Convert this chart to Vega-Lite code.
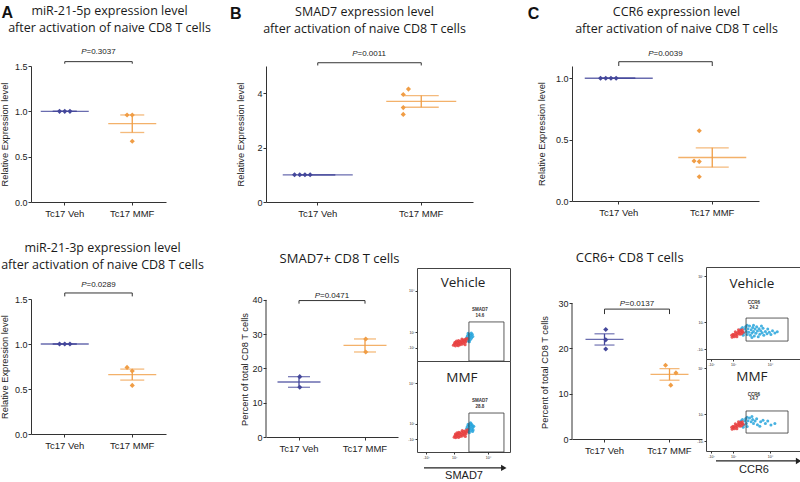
{
"$schema":"https://vega.github.io/schema/vega-lite/v6.json",
"padding":{"left":0,"top":4,"right":0,"bottom":0},
"config":{
 "view":{"stroke":null},
 "font":"Liberation Sans",
 "axis":{"grid":false,"labelOverlap":false,"labelFont":"Liberation Sans","titleFont":"Liberation Sans","labelFontSize":9,"titleFontSize":9.3,"titleFontWeight":"normal","labelColor":"#222","titleColor":"#222","domainColor":"#333","tickColor":"#333","tickSize":3},
 "title":{"font":"Open Sans","fontSize":12.5,"fontWeight":"normal","color":"#1a1a1a","lineHeight":17},
 "text":{"font":"Liberation Sans"}
},
"spacing":16,
"hconcat":[
{
"spacing":18,
"hconcat":[
{
 "title":{"text":"A","anchor":"start","font":"Liberation Sans","fontSize":16,"fontWeight":"bold","offset":-16,"dx":1,"color":"#111"},
 "spacing":23,
 "vconcat":[
 {
  "width":135,"height":136,
  "title":{"text":["miR-21-5p expression level","after activation of naive CD8 T cells"],"frame":"group","dx":11,"offset":14},
  "layer":[
   {"data":{"values":[
     {"group":"Tc17 Veh","slot":-1,"value":1.0},{"group":"Tc17 Veh","slot":0,"value":1.0},{"group":"Tc17 Veh","slot":1,"value":1.0},
     {"group":"Tc17 MMF","slot":-1,"value":0.96},{"group":"Tc17 MMF","slot":0,"value":0.96},{"group":"Tc17 MMF","slot":0,"value":0.67}]},
    "layer":[
     {"mark":{"type":"tick","size":48,"thickness":1.3,"opacity":0.8},
      "encoding":{
       "x":{"field":"group","type":"nominal","title":null,"scale":{"domain":["Tc17 Veh","Tc17 MMF"],"paddingInner":0,"paddingOuter":0},"axis":{"labelAngle":0,"labelFontSize":9.5,"labelPadding":3}},
       "y":{"aggregate":"mean","field":"value","type":"quantitative","title":"Relative Expression level","scale":{"domain":[0,1.5],"nice":false,"zero":false},"axis":{"values":[0,0.5,1,1.5],"format":".1f","labelPadding":1,"titlePadding":5}},
       "color":{"field":"group","type":"nominal","scale":{"domain":["Tc17 Veh","Tc17 MMF"],"range":["#44479b","#f09d45"]},"legend":null}}},
     {"mark":{"type":"errorbar","extent":"stderr","thickness":1.3,"ticks":{"size":24}},
      "encoding":{
       "x":{"field":"group","type":"nominal","title":null,"scale":{"domain":["Tc17 Veh","Tc17 MMF"],"paddingInner":0,"paddingOuter":0}},
       "y":{"field":"value","type":"quantitative","title":"Relative Expression level","scale":{"domain":[0,1.5],"nice":false,"zero":false}},
       "color":{"field":"group","type":"nominal","scale":{"domain":["Tc17 Veh","Tc17 MMF"],"range":["#44479b","#f09d45"]},"legend":null}}},
     {"mark":{"type":"point","shape":"diamond","filled":true,"size":26,"opacity":1},
      "encoding":{
       "x":{"field":"group","type":"nominal","title":null,"scale":{"domain":["Tc17 Veh","Tc17 MMF"],"paddingInner":0,"paddingOuter":0}},
       "xOffset":{"field":"slot","type":"ordinal","scale":{"type":"point","domain":[-2,-1,0,1,2],"range":[20.75,46.75]}},
       "y":{"field":"value","type":"quantitative","title":"Relative Expression level","scale":{"domain":[0,1.5],"nice":false,"zero":false}},
       "color":{"field":"group","type":"nominal","scale":{"domain":["Tc17 Veh","Tc17 MMF"],"range":["#44479b","#f09d45"]},"legend":null}}}
    ]},
   {"data":{"values":[{"group":"Tc17 Veh","y":1.548,"y2":1.525},{"group":"Tc17 MMF","y":1.548,"y2":1.525}]},
    "layer":[
     {"mark":{"type":"line","color":"#333","strokeWidth":1},"encoding":{"x":{"field":"group","type":"nominal","title":null,"scale":{"domain":["Tc17 Veh","Tc17 MMF"],"paddingInner":0,"paddingOuter":0}},"y":{"field":"y","type":"quantitative","title":"Relative Expression level","scale":{"domain":[0,1.5],"nice":false,"zero":false}}}},
     {"mark":{"type":"rule","color":"#333","strokeWidth":1},"encoding":{"x":{"field":"group","type":"nominal","title":null,"scale":{"domain":["Tc17 Veh","Tc17 MMF"],"paddingInner":0,"paddingOuter":0}},"y":{"field":"y","type":"quantitative","title":"Relative Expression level","scale":{"domain":[0,1.5],"nice":false,"zero":false}},"y2":{"field":"y2"}}}
    ]},
   {"data":{"values":[{"group":"Tc17 Veh","y":1.654,"p":"P","v":"=0.3037"}]},
    "layer":[
     {"mark":{"type":"text","fontSize":8,"fontStyle":"italic","align":"right","baseline":"middle","dx":-12,"color":"#222"},"encoding":{"x":{"field":"group","type":"nominal","title":null,"bandPosition":1,"scale":{"domain":["Tc17 Veh","Tc17 MMF"],"paddingInner":0,"paddingOuter":0}},"y":{"field":"y","type":"quantitative","title":"Relative Expression level","scale":{"domain":[0,1.5],"nice":false,"zero":false}},"text":{"field":"p"}}},
     {"mark":{"type":"text","fontSize":8,"align":"left","baseline":"middle","dx":-12,"color":"#222"},"encoding":{"x":{"field":"group","type":"nominal","title":null,"bandPosition":1,"scale":{"domain":["Tc17 Veh","Tc17 MMF"],"paddingInner":0,"paddingOuter":0}},"y":{"field":"y","type":"quantitative","title":"Relative Expression level","scale":{"domain":[0,1.5],"nice":false,"zero":false}},"text":{"field":"v"}}}
    ]}
  ]
 },
 {
  "width":135,"height":135,
  "title":{"text":["miR-21-3p expression level","after activation of naive CD8 T cells"],"frame":"group","dx":4,"offset":10},
  "layer":[
   {"data":{"values":[
     {"group":"Tc17 Veh","slot":-1,"value":1.0},{"group":"Tc17 Veh","slot":0,"value":1.0},{"group":"Tc17 Veh","slot":1,"value":1.0},
     {"group":"Tc17 MMF","slot":-1,"value":0.74},{"group":"Tc17 MMF","slot":0,"value":0.70},{"group":"Tc17 MMF","slot":0,"value":0.54}]},
    "layer":[
     {"mark":{"type":"tick","size":48,"thickness":1.3,"opacity":0.8},
      "encoding":{
       "x":{"field":"group","type":"nominal","title":null,"scale":{"domain":["Tc17 Veh","Tc17 MMF"],"paddingInner":0,"paddingOuter":0},"axis":{"labelAngle":0,"labelFontSize":9.5,"labelPadding":3}},
       "y":{"aggregate":"mean","field":"value","type":"quantitative","title":"Relative Expression level","scale":{"domain":[0,1.5],"nice":false,"zero":false},"axis":{"values":[0,0.5,1,1.5],"format":".1f","labelPadding":1,"titlePadding":5}},
       "color":{"field":"group","type":"nominal","scale":{"domain":["Tc17 Veh","Tc17 MMF"],"range":["#44479b","#f09d45"]},"legend":null}}},
     {"mark":{"type":"errorbar","extent":"stderr","thickness":1.3,"ticks":{"size":24}},
      "encoding":{
       "x":{"field":"group","type":"nominal","title":null,"scale":{"domain":["Tc17 Veh","Tc17 MMF"],"paddingInner":0,"paddingOuter":0}},
       "y":{"field":"value","type":"quantitative","title":"Relative Expression level","scale":{"domain":[0,1.5],"nice":false,"zero":false}},
       "color":{"field":"group","type":"nominal","scale":{"domain":["Tc17 Veh","Tc17 MMF"],"range":["#44479b","#f09d45"]},"legend":null}}},
     {"mark":{"type":"point","shape":"diamond","filled":true,"size":26,"opacity":1},
      "encoding":{
       "x":{"field":"group","type":"nominal","title":null,"scale":{"domain":["Tc17 Veh","Tc17 MMF"],"paddingInner":0,"paddingOuter":0}},
       "xOffset":{"field":"slot","type":"ordinal","scale":{"type":"point","domain":[-2,-1,0,1,2],"range":[20.75,46.75]}},
       "y":{"field":"value","type":"quantitative","title":"Relative Expression level","scale":{"domain":[0,1.5],"nice":false,"zero":false}},
       "color":{"field":"group","type":"nominal","scale":{"domain":["Tc17 Veh","Tc17 MMF"],"range":["#44479b","#f09d45"]},"legend":null}}}
    ]},
   {"data":{"values":[{"group":"Tc17 Veh","y":1.567,"y2":1.529},{"group":"Tc17 MMF","y":1.567,"y2":1.529}]},
    "layer":[
     {"mark":{"type":"line","color":"#333","strokeWidth":1},"encoding":{"x":{"field":"group","type":"nominal","title":null,"scale":{"domain":["Tc17 Veh","Tc17 MMF"],"paddingInner":0,"paddingOuter":0}},"y":{"field":"y","type":"quantitative","title":"Relative Expression level","scale":{"domain":[0,1.5],"nice":false,"zero":false}}}},
     {"mark":{"type":"rule","color":"#333","strokeWidth":1},"encoding":{"x":{"field":"group","type":"nominal","title":null,"scale":{"domain":["Tc17 Veh","Tc17 MMF"],"paddingInner":0,"paddingOuter":0}},"y":{"field":"y","type":"quantitative","title":"Relative Expression level","scale":{"domain":[0,1.5],"nice":false,"zero":false}},"y2":{"field":"y2"}}}
    ]},
   {"data":{"values":[{"group":"Tc17 Veh","y":1.655,"p":"P","v":"=0.0289"}]},
    "layer":[
     {"mark":{"type":"text","fontSize":8,"fontStyle":"italic","align":"right","baseline":"middle","dx":-12,"color":"#222"},"encoding":{"x":{"field":"group","type":"nominal","title":null,"bandPosition":1,"scale":{"domain":["Tc17 Veh","Tc17 MMF"],"paddingInner":0,"paddingOuter":0}},"y":{"field":"y","type":"quantitative","title":"Relative Expression level","scale":{"domain":[0,1.5],"nice":false,"zero":false}},"text":{"field":"p"}}},
     {"mark":{"type":"text","fontSize":8,"align":"left","baseline":"middle","dx":-12,"color":"#222"},"encoding":{"x":{"field":"group","type":"nominal","title":null,"bandPosition":1,"scale":{"domain":["Tc17 Veh","Tc17 MMF"],"paddingInner":0,"paddingOuter":0}},"y":{"field":"y","type":"quantitative","title":"Relative Expression level","scale":{"domain":[0,1.5],"nice":false,"zero":false}},"text":{"field":"v"}}}
    ]}
  ]
 }
 ]
},
{
 "title":{"text":"B","anchor":"start","font":"Liberation Sans","fontSize":16,"fontWeight":"bold","offset":-16,"dx":-7,"color":"#111"},
 "spacing":34,
 "vconcat":[
 {
  "width":207,"height":136,
  "title":{"text":["SMAD7 expression level","after activation of naive CD8 T cells"],"frame":"group","dx":-5,"offset":14},
  "layer":[
   {"data":{"values":[
     {"group":"Tc17 Veh","slot":-1,"value":1.0},{"group":"Tc17 Veh","slot":0,"value":1.0},{"group":"Tc17 Veh","slot":1,"value":1.0},{"group":"Tc17 Veh","slot":2,"value":1.0},
     {"group":"Tc17 MMF","slot":1,"value":4.15},{"group":"Tc17 MMF","slot":0,"value":3.95},{"group":"Tc17 MMF","slot":0,"value":3.47},{"group":"Tc17 MMF","slot":0,"value":3.22}]},
    "layer":[
     {"mark":{"type":"tick","size":70,"thickness":1.3,"opacity":0.8},
      "encoding":{
       "x":{"field":"group","type":"nominal","title":null,"scale":{"domain":["Tc17 Veh","Tc17 MMF"],"paddingInner":0,"paddingOuter":0},"axis":{"labelAngle":0,"labelFontSize":9.5,"labelPadding":3}},
       "y":{"aggregate":"mean","field":"value","type":"quantitative","title":"Relative Expression level","scale":{"domain":[0,5],"nice":false,"zero":false},"axis":{"values":[0,1,2,3,4,5],"format":"d","labelPadding":1,"titlePadding":11}},
       "color":{"field":"group","type":"nominal","scale":{"domain":["Tc17 Veh","Tc17 MMF"],"range":["#44479b","#f09d45"]},"legend":null}}},
     {"mark":{"type":"errorbar","extent":"stderr","thickness":1.3,"ticks":{"size":35}},
      "encoding":{
       "x":{"field":"group","type":"nominal","title":null,"scale":{"domain":["Tc17 Veh","Tc17 MMF"],"paddingInner":0,"paddingOuter":0}},
       "y":{"field":"value","type":"quantitative","title":"Relative Expression level","scale":{"domain":[0,5],"nice":false,"zero":false}},
       "color":{"field":"group","type":"nominal","scale":{"domain":["Tc17 Veh","Tc17 MMF"],"range":["#44479b","#f09d45"]},"legend":null}}},
     {"mark":{"type":"point","shape":"diamond","filled":true,"size":26,"opacity":1},
      "encoding":{
       "x":{"field":"group","type":"nominal","title":null,"scale":{"domain":["Tc17 Veh","Tc17 MMF"],"paddingInner":0,"paddingOuter":0}},
       "xOffset":{"field":"slot","type":"ordinal","scale":{"type":"point","domain":[-2,-1,0,1,2],"range":[38.75,64.75]}},
       "y":{"field":"value","type":"quantitative","title":"Relative Expression level","scale":{"domain":[0,5],"nice":false,"zero":false}},
       "color":{"field":"group","type":"nominal","scale":{"domain":["Tc17 Veh","Tc17 MMF"],"range":["#44479b","#f09d45"]},"legend":null}}}
    ]},
   {"data":{"values":[{"group":"Tc17 Veh","y":5.12,"y2":5.02},{"group":"Tc17 MMF","y":5.12,"y2":5.02}]},
    "layer":[
     {"mark":{"type":"line","color":"#333","strokeWidth":1},"encoding":{"x":{"field":"group","type":"nominal","title":null,"scale":{"domain":["Tc17 Veh","Tc17 MMF"],"paddingInner":0,"paddingOuter":0}},"y":{"field":"y","type":"quantitative","title":"Relative Expression level","scale":{"domain":[0,5],"nice":false,"zero":false}}}},
     {"mark":{"type":"rule","color":"#333","strokeWidth":1},"encoding":{"x":{"field":"group","type":"nominal","title":null,"scale":{"domain":["Tc17 Veh","Tc17 MMF"],"paddingInner":0,"paddingOuter":0}},"y":{"field":"y","type":"quantitative","title":"Relative Expression level","scale":{"domain":[0,5],"nice":false,"zero":false}},"y2":{"field":"y2"}}}
    ]},
   {"data":{"values":[{"group":"Tc17 Veh","y":5.45,"p":"P","v":"=0.0011"}]},
    "layer":[
     {"mark":{"type":"text","fontSize":8,"fontStyle":"italic","align":"right","baseline":"middle","dx":-12,"color":"#222"},"encoding":{"x":{"field":"group","type":"nominal","title":null,"bandPosition":1,"scale":{"domain":["Tc17 Veh","Tc17 MMF"],"paddingInner":0,"paddingOuter":0}},"y":{"field":"y","type":"quantitative","title":"Relative Expression level","scale":{"domain":[0,5],"nice":false,"zero":false}},"text":{"field":"p"}}},
     {"mark":{"type":"text","fontSize":8,"align":"left","baseline":"middle","dx":-12,"color":"#222"},"encoding":{"x":{"field":"group","type":"nominal","title":null,"bandPosition":1,"scale":{"domain":["Tc17 Veh","Tc17 MMF"],"paddingInner":0,"paddingOuter":0}},"y":{"field":"y","type":"quantitative","title":"Relative Expression level","scale":{"domain":[0,5],"nice":false,"zero":false}},"text":{"field":"v"}}}
    ]}
  ]
 },
 {
  "title":{"text":"SMAD7+ CD8 T cells","anchor":"start","dx":39,"offset":2,"fontSize":13},
  "spacing":9,
  "hconcat":[
   {
    "width":132,"height":169,
    "layer":[
     {"data":{"values":[
       {"group":"Tc17 Veh","slot":0,"value":17.6},{"group":"Tc17 Veh","slot":0,"value":14.5},
       {"group":"Tc17 MMF","slot":0,"value":28.6},{"group":"Tc17 MMF","slot":0,"value":24.8}]},
      "layer":[
       {"mark":{"type":"tick","size":43,"thickness":1.3,"opacity":0.8},
        "encoding":{
         "x":{"field":"group","type":"nominal","title":null,"scale":{"domain":["Tc17 Veh","Tc17 MMF"],"paddingInner":0,"paddingOuter":0},"axis":{"labelAngle":0,"labelFontSize":9.5,"labelPadding":3}},
         "y":{"aggregate":"mean","field":"value","type":"quantitative","title":"Percent of total CD8 T cells","scale":{"domain":[0,49.3],"nice":false,"zero":false},"axis":{"values":[0,10,20,30,40],"format":"d","domain":false,"titleY":101,"labelPadding":1,"titlePadding":2.4}},
         "color":{"field":"group","type":"nominal","scale":{"domain":["Tc17 Veh","Tc17 MMF"],"range":["#44479b","#f09d45"]},"legend":null}}},
       {"mark":{"type":"errorbar","extent":"stderr","thickness":1.3,"ticks":{"size":22}},
        "encoding":{
         "x":{"field":"group","type":"nominal","title":null,"scale":{"domain":["Tc17 Veh","Tc17 MMF"],"paddingInner":0,"paddingOuter":0}},
         "y":{"field":"value","type":"quantitative","title":"Percent of total CD8 T cells","scale":{"domain":[0,49.3],"nice":false,"zero":false}},
         "color":{"field":"group","type":"nominal","scale":{"domain":["Tc17 Veh","Tc17 MMF"],"range":["#44479b","#f09d45"]},"legend":null}}},
       {"mark":{"type":"point","shape":"diamond","filled":true,"size":26,"opacity":1},
        "encoding":{
         "x":{"field":"group","type":"nominal","title":null,"scale":{"domain":["Tc17 Veh","Tc17 MMF"],"paddingInner":0,"paddingOuter":0}},
         "xOffset":{"field":"slot","type":"ordinal","scale":{"type":"point","domain":[-2,-1,0,1,2],"range":[20,46]}},
         "y":{"field":"value","type":"quantitative","title":"Percent of total CD8 T cells","scale":{"domain":[0,49.3],"nice":false,"zero":false}},
         "color":{"field":"group","type":"nominal","scale":{"domain":["Tc17 Veh","Tc17 MMF"],"range":["#44479b","#f09d45"]},"legend":null}}}
      ]},
     {"data":{"values":[{"group":"Tc17 Veh","lo":0,"hi":40}]},
      "mark":{"type":"rule","color":"#333","strokeWidth":1},
      "encoding":{"x":{"field":"group","type":"nominal","title":null,"bandPosition":0,"scale":{"domain":["Tc17 Veh","Tc17 MMF"],"paddingInner":0,"paddingOuter":0}},"y":{"field":"lo","type":"quantitative","title":"Percent of total CD8 T cells","scale":{"domain":[0,49.3],"nice":false,"zero":false}},"y2":{"field":"hi"}}},
     {"data":{"values":[{"group":"Tc17 Veh","y":39.8,"y2":38.9},{"group":"Tc17 MMF","y":39.8,"y2":38.9}]},
      "layer":[
       {"mark":{"type":"line","color":"#333","strokeWidth":1},"encoding":{"x":{"field":"group","type":"nominal","title":null,"scale":{"domain":["Tc17 Veh","Tc17 MMF"],"paddingInner":0,"paddingOuter":0}},"y":{"field":"y","type":"quantitative","title":"Percent of total CD8 T cells","scale":{"domain":[0,49.3],"nice":false,"zero":false}}}},
       {"mark":{"type":"rule","color":"#333","strokeWidth":1},"encoding":{"x":{"field":"group","type":"nominal","title":null,"scale":{"domain":["Tc17 Veh","Tc17 MMF"],"paddingInner":0,"paddingOuter":0}},"y":{"field":"y","type":"quantitative","title":"Percent of total CD8 T cells","scale":{"domain":[0,49.3],"nice":false,"zero":false}},"y2":{"field":"y2"}}}
      ]},
     {"data":{"values":[{"group":"Tc17 Veh","y":41.2,"p":"P","v":"=0.0471"}]},
      "layer":[
       {"mark":{"type":"text","fontSize":8,"fontStyle":"italic","align":"right","baseline":"middle","dx":-12,"color":"#222"},"encoding":{"x":{"field":"group","type":"nominal","title":null,"bandPosition":1,"scale":{"domain":["Tc17 Veh","Tc17 MMF"],"paddingInner":0,"paddingOuter":0}},"y":{"field":"y","type":"quantitative","title":"Percent of total CD8 T cells","scale":{"domain":[0,49.3],"nice":false,"zero":false}},"text":{"field":"p"}}},
       {"mark":{"type":"text","fontSize":8,"align":"left","baseline":"middle","dx":-12,"color":"#222"},"encoding":{"x":{"field":"group","type":"nominal","title":null,"bandPosition":1,"scale":{"domain":["Tc17 Veh","Tc17 MMF"],"paddingInner":0,"paddingOuter":0}},"y":{"field":"y","type":"quantitative","title":"Percent of total CD8 T cells","scale":{"domain":[0,49.3],"nice":false,"zero":false}},"text":{"field":"v"}}}
      ]}
    ]
   },
   {
    "spacing":0,"bounds":"flush",
    "vconcat":[
     {
      "width":93,"height":93,"view":{"stroke":"#444","strokeWidth":1},
      "layer":[
       {"data":{"values":[
         {"pop":"pos","u":3.2,"d":1.5},{"pop":"pos","u":3.25,"d":1.62},{"pop":"pos","u":3.28,"d":1.3},{"pop":"pos","u":3.32,"d":1.45},{"pop":"pos","u":3.36,"d":1.7},{"pop":"pos","u":3.4,"d":1.55},{"pop":"pos","u":3.44,"d":1.38},{"pop":"pos","u":3.48,"d":1.65},{"pop":"pos","u":3.52,"d":1.48},{"pop":"pos","u":3.56,"d":1.72},{"pop":"pos","u":3.6,"d":1.58},{"pop":"pos","u":3.38,"d":1.25},{"pop":"pos","u":3.5,"d":1.8},{"pop":"pos","u":3.3,"d":1.78},
         {"pop":"neg","u":2.35,"d":1.02},{"pop":"neg","u":2.42,"d":1.1},{"pop":"neg","u":2.48,"d":0.98},{"pop":"neg","u":2.52,"d":1.15},{"pop":"neg","u":2.58,"d":1.05},{"pop":"neg","u":2.62,"d":1.2},{"pop":"neg","u":2.66,"d":0.99},{"pop":"neg","u":2.7,"d":1.12},{"pop":"neg","u":2.74,"d":1.25},{"pop":"neg","u":2.78,"d":1.05},{"pop":"neg","u":2.82,"d":1.18},{"pop":"neg","u":2.86,"d":1.3},{"pop":"neg","u":2.9,"d":1.08},{"pop":"neg","u":2.94,"d":1.22},{"pop":"neg","u":2.98,"d":1.35},{"pop":"neg","u":3.02,"d":1.15},{"pop":"neg","u":3.06,"d":1.28},{"pop":"neg","u":3.1,"d":1.4},{"pop":"neg","u":3.14,"d":1.22},{"pop":"neg","u":3.18,"d":1.35},{"pop":"neg","u":3.22,"d":1.45},{"pop":"neg","u":2.55,"d":1.28},{"pop":"neg","u":2.9,"d":1.42},{"pop":"neg","u":3.1,"d":1.05},{"pop":"neg","u":2.45,"d":1.2},{"pop":"neg","u":2.68,"d":1.32}]},
        "mark":{"type":"circle","size":10,"opacity":0.85},
        "encoding":{
         "x":{"field":"u","type":"quantitative","title":null,"scale":{"domain":[0,6],"nice":false,"zero":false},"axis":null},
         "y":{"field":"d","type":"quantitative","title":null,"scale":{"domain":[0,6],"nice":false,"zero":false},"axis":{"values":[0.84,1.35,1.87,3.23,4.52,5.81],"labelExpr":"datum.value < 1 ? '-10²' : datum.value < 1.6 ? '0' : datum.value < 2.5 ? '10²' : datum.value < 4 ? '10³' : datum.value < 5 ? '10⁴' : '10⁵'","labelFontSize":3.5,"tickSize":2,"labelPadding":1,"domain":false}},
         "fill":{"field":"pop","type":"nominal","scale":{"domain":["neg","pos"],"range":["#e8403f","#27a4dc"]},"legend":null}}},
       {"data":{"values":[{"u1":3.35,"u2":5.61,"d1":0,"d2":2.52}]},
        "mark":{"type":"rect","filled":false,"color":"#333","strokeWidth":0.8},
        "encoding":{"x":{"field":"u1","type":"quantitative","title":null,"scale":{"domain":[0,6],"nice":false,"zero":false},"axis":null},"x2":{"field":"u2"},"y":{"field":"d1","type":"quantitative","title":null,"scale":{"domain":[0,6],"nice":false,"zero":false}},"y2":{"field":"d2"}}},
       {"data":{"values":[{"u":4.06,"d":3.29,"t":"SMAD7"},{"u":4.06,"d":2.9,"t":"14.6"}]},
        "mark":{"type":"text","fontSize":4.5,"fontWeight":"bold","color":"#333"},
        "encoding":{"x":{"field":"u","type":"quantitative","title":null,"scale":{"domain":[0,6],"nice":false,"zero":false},"axis":null},"y":{"field":"d","type":"quantitative","title":null,"scale":{"domain":[0,6],"nice":false,"zero":false}},"text":{"field":"t"}}},
       {"data":{"values":[{"u":2.97,"d":5.03,"t":"Vehicle"}]},
        "mark":{"type":"text","font":"Open Sans","fontSize":13.5,"color":"#222"},
        "encoding":{"x":{"field":"u","type":"quantitative","title":null,"scale":{"domain":[0,6],"nice":false,"zero":false},"axis":null},"y":{"field":"d","type":"quantitative","title":null,"scale":{"domain":[0,6],"nice":false,"zero":false}},"text":{"field":"t"}}}
      ]
     },
     {
      "width":93,"height":91,"view":{"stroke":"#444","strokeWidth":1},
      "layer":[
       {"data":{"values":[
         {"pop":"pos","u":3.2,"d":1.55},{"pop":"pos","u":3.25,"d":1.68},{"pop":"pos","u":3.28,"d":1.35},{"pop":"pos","u":3.32,"d":1.5},{"pop":"pos","u":3.36,"d":1.75},{"pop":"pos","u":3.4,"d":1.6},{"pop":"pos","u":3.44,"d":1.42},{"pop":"pos","u":3.48,"d":1.7},{"pop":"pos","u":3.52,"d":1.52},{"pop":"pos","u":3.56,"d":1.78},{"pop":"pos","u":3.6,"d":1.62},{"pop":"pos","u":3.38,"d":1.28},{"pop":"pos","u":3.5,"d":1.85},{"pop":"pos","u":3.3,"d":1.82},{"pop":"pos","u":3.62,"d":1.45},{"pop":"pos","u":3.66,"d":1.7},{"pop":"pos","u":3.45,"d":1.92},{"pop":"pos","u":3.58,"d":1.35},
         {"pop":"neg","u":2.4,"d":0.98},{"pop":"neg","u":2.46,"d":1.08},{"pop":"neg","u":2.5,"d":0.95},{"pop":"neg","u":2.55,"d":1.12},{"pop":"neg","u":2.6,"d":1.02},{"pop":"neg","u":2.64,"d":1.18},{"pop":"neg","u":2.68,"d":0.96},{"pop":"neg","u":2.72,"d":1.1},{"pop":"neg","u":2.76,"d":1.24},{"pop":"neg","u":2.8,"d":1.02},{"pop":"neg","u":2.84,"d":1.16},{"pop":"neg","u":2.88,"d":1.3},{"pop":"neg","u":2.92,"d":1.06},{"pop":"neg","u":2.96,"d":1.2},{"pop":"neg","u":3.0,"d":1.34},{"pop":"neg","u":3.04,"d":1.12},{"pop":"neg","u":3.08,"d":1.26},{"pop":"neg","u":3.12,"d":1.4},{"pop":"neg","u":3.16,"d":1.2},{"pop":"neg","u":3.2,"d":1.32},{"pop":"neg","u":3.24,"d":1.46},{"pop":"neg","u":2.58,"d":1.26},{"pop":"neg","u":2.92,"d":1.42},{"pop":"neg","u":3.12,"d":1.02},{"pop":"neg","u":2.48,"d":1.18},{"pop":"neg","u":2.7,"d":1.3}]},
        "mark":{"type":"circle","size":10,"opacity":0.85},
        "encoding":{
         "x":{"field":"u","type":"quantitative","title":"SMAD7","scale":{"domain":[0,6],"nice":false,"zero":false},"axis":{"values":[0.58,1.42,2.39,3.55,4.58,5.55],"labelExpr":"datum.value < 1 ? '-10²' : datum.value < 2 ? '0' : datum.value < 3 ? '10²' : datum.value < 4 ? '10³' : datum.value < 5 ? '10⁴' : '10⁵'","labelFontSize":3.5,"tickSize":2,"labelPadding":1,"domain":false,"titleFontSize":11,"titlePadding":11}},
         "y":{"field":"d","type":"quantitative","title":null,"scale":{"domain":[0,6],"nice":false,"zero":false},"axis":{"values":[0.84,1.35,1.87,3.23,4.52,5.81],"labelExpr":"datum.value < 1 ? '-10²' : datum.value < 1.6 ? '0' : datum.value < 2.5 ? '10²' : datum.value < 4 ? '10³' : datum.value < 5 ? '10⁴' : '10⁵'","labelFontSize":3.5,"tickSize":2,"labelPadding":1,"domain":false}},
         "fill":{"field":"pop","type":"nominal","scale":{"domain":["neg","pos"],"range":["#e8403f","#27a4dc"]},"legend":null}}},
       {"data":{"values":[{"u1":3.35,"u2":5.61,"d1":0,"d2":2.57}]},
        "mark":{"type":"rect","filled":false,"color":"#333","strokeWidth":0.8},
        "encoding":{"x":{"field":"u1","type":"quantitative","title":"SMAD7","scale":{"domain":[0,6],"nice":false,"zero":false}},"x2":{"field":"u2"},"y":{"field":"d1","type":"quantitative","title":null,"scale":{"domain":[0,6],"nice":false,"zero":false}},"y2":{"field":"d2"}}},
       {"data":{"values":[{"u":4.06,"d":3.36,"t":"SMAD7"},{"u":4.06,"d":2.97,"t":"28.8"}]},
        "mark":{"type":"text","fontSize":4.5,"fontWeight":"bold","color":"#333"},
        "encoding":{"x":{"field":"u","type":"quantitative","title":"SMAD7","scale":{"domain":[0,6],"nice":false,"zero":false}},"y":{"field":"d","type":"quantitative","title":null,"scale":{"domain":[0,6],"nice":false,"zero":false}},"text":{"field":"t"}}},
       {"data":{"values":[{"u":2.9,"d":4.88,"t":"MMF"}]},
        "mark":{"type":"text","font":"Open Sans","fontSize":13.5,"color":"#222"},
        "encoding":{"x":{"field":"u","type":"quantitative","title":"SMAD7","scale":{"domain":[0,6],"nice":false,"zero":false}},"y":{"field":"d","type":"quantitative","title":null,"scale":{"domain":[0,6],"nice":false,"zero":false}},"text":{"field":"t"}}},
       {"data":{"values":[{"u1":0.45,"u2":5.6,"d":-1.05}]},
        "layer":[
         {"mark":{"type":"rule","color":"#222","strokeWidth":1.2},"encoding":{"x":{"field":"u1","type":"quantitative","title":"SMAD7","scale":{"domain":[0,6],"nice":false,"zero":false}},"x2":{"field":"u2"},"y":{"field":"d","type":"quantitative","title":null,"scale":{"domain":[0,6],"nice":false,"zero":false}}}},
         {"mark":{"type":"point","shape":"triangle-right","filled":true,"size":40,"color":"#222","opacity":1},"encoding":{"x":{"field":"u2","type":"quantitative","title":"SMAD7","scale":{"domain":[0,6],"nice":false,"zero":false}},"y":{"field":"d","type":"quantitative","title":null,"scale":{"domain":[0,6],"nice":false,"zero":false}}}}
        ]}
      ]
     }
    ]
   }
  ]
 }
 ]
}
]
},
{
 "title":{"text":"C","anchor":"start","font":"Liberation Sans","fontSize":16,"fontWeight":"bold","offset":-16,"dx":-10,"color":"#111"},
 "spacing":34,
 "vconcat":[
 {
  "width":187,"height":135,
  "title":{"text":["CCR6 expression level","after activation of naive CD8 T cells"],"frame":"group","dx":11,"offset":14},
  "layer":[
   {"data":{"values":[
     {"group":"Tc17 Veh","slot":-1,"value":1.0},{"group":"Tc17 Veh","slot":0,"value":1.0},{"group":"Tc17 Veh","slot":1,"value":1.0},{"group":"Tc17 Veh","slot":2,"value":1.0},
     {"group":"Tc17 MMF","slot":0,"value":0.573},{"group":"Tc17 MMF","slot":-1,"value":0.326},{"group":"Tc17 MMF","slot":0,"value":0.321},{"group":"Tc17 MMF","slot":0,"value":0.198}]},
    "layer":[
     {"mark":{"type":"tick","size":68,"thickness":1.3,"opacity":0.8},
      "encoding":{
       "x":{"field":"group","type":"nominal","title":null,"scale":{"domain":["Tc17 Veh","Tc17 MMF"],"paddingInner":0,"paddingOuter":0},"axis":{"labelAngle":0,"labelFontSize":9.5,"labelPadding":3}},
       "y":{"aggregate":"mean","field":"value","type":"quantitative","title":"Relative Expression level","scale":{"domain":[0,1.1],"nice":false,"zero":false},"axis":{"values":[0,0.5,1],"format":".1f","labelPadding":1,"titlePadding":8.8}},
       "color":{"field":"group","type":"nominal","scale":{"domain":["Tc17 Veh","Tc17 MMF"],"range":["#44479b","#f09d45"]},"legend":null}}},
     {"mark":{"type":"errorbar","extent":"stderr","thickness":1.3,"ticks":{"size":33}},
      "encoding":{
       "x":{"field":"group","type":"nominal","title":null,"scale":{"domain":["Tc17 Veh","Tc17 MMF"],"paddingInner":0,"paddingOuter":0}},
       "y":{"field":"value","type":"quantitative","title":"Relative Expression level","scale":{"domain":[0,1.1],"nice":false,"zero":false}},
       "color":{"field":"group","type":"nominal","scale":{"domain":["Tc17 Veh","Tc17 MMF"],"range":["#44479b","#f09d45"]},"legend":null}}},
     {"mark":{"type":"point","shape":"diamond","filled":true,"size":26,"opacity":1},
      "encoding":{
       "x":{"field":"group","type":"nominal","title":null,"scale":{"domain":["Tc17 Veh","Tc17 MMF"],"paddingInner":0,"paddingOuter":0}},
       "xOffset":{"field":"slot","type":"ordinal","scale":{"type":"point","domain":[-2,-1,0,1,2],"range":[33.75,59.75]}},
       "y":{"field":"value","type":"quantitative","title":"Relative Expression level","scale":{"domain":[0,1.1],"nice":false,"zero":false}},
       "color":{"field":"group","type":"nominal","scale":{"domain":["Tc17 Veh","Tc17 MMF"],"range":["#44479b","#f09d45"]},"legend":null}}}
    ]},
   {"data":{"values":[{"group":"Tc17 Veh","y":1.135,"y2":1.1},{"group":"Tc17 MMF","y":1.135,"y2":1.1}]},
    "layer":[
     {"mark":{"type":"line","color":"#333","strokeWidth":1},"encoding":{"x":{"field":"group","type":"nominal","title":null,"scale":{"domain":["Tc17 Veh","Tc17 MMF"],"paddingInner":0,"paddingOuter":0}},"y":{"field":"y","type":"quantitative","title":"Relative Expression level","scale":{"domain":[0,1.1],"nice":false,"zero":false}}}},
     {"mark":{"type":"rule","color":"#333","strokeWidth":1},"encoding":{"x":{"field":"group","type":"nominal","title":null,"scale":{"domain":["Tc17 Veh","Tc17 MMF"],"paddingInner":0,"paddingOuter":0}},"y":{"field":"y","type":"quantitative","title":"Relative Expression level","scale":{"domain":[0,1.1],"nice":false,"zero":false}},"y2":{"field":"y2"}}}
    ]},
   {"data":{"values":[{"group":"Tc17 Veh","y":1.2,"p":"P","v":"=0.0039"}]},
    "layer":[
     {"mark":{"type":"text","fontSize":8,"fontStyle":"italic","align":"right","baseline":"middle","dx":-12,"color":"#222"},"encoding":{"x":{"field":"group","type":"nominal","title":null,"bandPosition":1,"scale":{"domain":["Tc17 Veh","Tc17 MMF"],"paddingInner":0,"paddingOuter":0}},"y":{"field":"y","type":"quantitative","title":"Relative Expression level","scale":{"domain":[0,1.1],"nice":false,"zero":false}},"text":{"field":"p"}}},
     {"mark":{"type":"text","fontSize":8,"align":"left","baseline":"middle","dx":-12,"color":"#222"},"encoding":{"x":{"field":"group","type":"nominal","title":null,"bandPosition":1,"scale":{"domain":["Tc17 Veh","Tc17 MMF"],"paddingInner":0,"paddingOuter":0}},"y":{"field":"y","type":"quantitative","title":"Relative Expression level","scale":{"domain":[0,1.1],"nice":false,"zero":false}},"text":{"field":"v"}}}
    ]}
  ]
 },
 {
  "title":{"text":"CCR6+ CD8 T cells","anchor":"start","dx":35,"offset":2,"fontSize":13},
  "spacing":-6,
  "hconcat":[
   {
    "width":130,"height":172,
    "layer":[
     {"data":{"values":[
       {"group":"Tc17 Veh","slot":0,"value":24.2},{"group":"Tc17 Veh","slot":0,"value":21.9},{"group":"Tc17 Veh","slot":0,"value":19.9},
       {"group":"Tc17 MMF","slot":-1,"value":16.3},{"group":"Tc17 MMF","slot":1,"value":14.6},{"group":"Tc17 MMF","slot":0,"value":11.9}]},
      "layer":[
       {"mark":{"type":"tick","size":38,"thickness":1.3,"opacity":0.8},
        "encoding":{
         "x":{"field":"group","type":"nominal","title":null,"scale":{"domain":["Tc17 Veh","Tc17 MMF"],"paddingInner":0,"paddingOuter":0},"axis":{"labelAngle":0,"labelFontSize":9.5,"labelPadding":3}},
         "y":{"aggregate":"mean","field":"value","type":"quantitative","title":"Percent of total CD8 T cells","scale":{"domain":[0,38],"nice":false,"zero":false},"axis":{"values":[0,10,20,30],"format":"d","domain":false,"titleY":105,"labelPadding":1,"titlePadding":8.3}},
         "color":{"field":"group","type":"nominal","scale":{"domain":["Tc17 Veh","Tc17 MMF"],"range":["#44479b","#f09d45"]},"legend":null}}},
       {"mark":{"type":"errorbar","extent":"stderr","thickness":1.3,"ticks":{"size":20}},
        "encoding":{
         "x":{"field":"group","type":"nominal","title":null,"scale":{"domain":["Tc17 Veh","Tc17 MMF"],"paddingInner":0,"paddingOuter":0}},
         "y":{"field":"value","type":"quantitative","title":"Percent of total CD8 T cells","scale":{"domain":[0,38],"nice":false,"zero":false}},
         "color":{"field":"group","type":"nominal","scale":{"domain":["Tc17 Veh","Tc17 MMF"],"range":["#44479b","#f09d45"]},"legend":null}}},
       {"mark":{"type":"point","shape":"diamond","filled":true,"size":26,"opacity":1},
        "encoding":{
         "x":{"field":"group","type":"nominal","title":null,"scale":{"domain":["Tc17 Veh","Tc17 MMF"],"paddingInner":0,"paddingOuter":0}},
         "xOffset":{"field":"slot","type":"ordinal","scale":{"type":"point","domain":[-2,-1,0,1,2],"range":[21.5,43.5]}},
         "y":{"field":"value","type":"quantitative","title":"Percent of total CD8 T cells","scale":{"domain":[0,38],"nice":false,"zero":false}},
         "color":{"field":"group","type":"nominal","scale":{"domain":["Tc17 Veh","Tc17 MMF"],"range":["#44479b","#f09d45"]},"legend":null}}}
      ]},
     {"data":{"values":[{"group":"Tc17 Veh","lo":0,"hi":30}]},
      "mark":{"type":"rule","color":"#333","strokeWidth":1},
      "encoding":{"x":{"field":"group","type":"nominal","title":null,"bandPosition":0,"scale":{"domain":["Tc17 Veh","Tc17 MMF"],"paddingInner":0,"paddingOuter":0}},"y":{"field":"lo","type":"quantitative","title":"Percent of total CD8 T cells","scale":{"domain":[0,38],"nice":false,"zero":false}},"y2":{"field":"hi"}}},
     {"data":{"values":[{"group":"Tc17 Veh","y":28.7,"y2":27.6},{"group":"Tc17 MMF","y":28.7,"y2":27.6}]},
      "layer":[
       {"mark":{"type":"line","color":"#333","strokeWidth":1},"encoding":{"x":{"field":"group","type":"nominal","title":null,"scale":{"domain":["Tc17 Veh","Tc17 MMF"],"paddingInner":0,"paddingOuter":0}},"y":{"field":"y","type":"quantitative","title":"Percent of total CD8 T cells","scale":{"domain":[0,38],"nice":false,"zero":false}}}},
       {"mark":{"type":"rule","color":"#333","strokeWidth":1},"encoding":{"x":{"field":"group","type":"nominal","title":null,"scale":{"domain":["Tc17 Veh","Tc17 MMF"],"paddingInner":0,"paddingOuter":0}},"y":{"field":"y","type":"quantitative","title":"Percent of total CD8 T cells","scale":{"domain":[0,38],"nice":false,"zero":false}},"y2":{"field":"y2"}}}
      ]},
     {"data":{"values":[{"group":"Tc17 Veh","y":29.9,"p":"P","v":"=0.0137"}]},
      "layer":[
       {"mark":{"type":"text","fontSize":8,"fontStyle":"italic","align":"right","baseline":"middle","dx":-12,"color":"#222"},"encoding":{"x":{"field":"group","type":"nominal","title":null,"bandPosition":1,"scale":{"domain":["Tc17 Veh","Tc17 MMF"],"paddingInner":0,"paddingOuter":0}},"y":{"field":"y","type":"quantitative","title":"Percent of total CD8 T cells","scale":{"domain":[0,38],"nice":false,"zero":false}},"text":{"field":"p"}}},
       {"mark":{"type":"text","fontSize":8,"align":"left","baseline":"middle","dx":-12,"color":"#222"},"encoding":{"x":{"field":"group","type":"nominal","title":null,"bandPosition":1,"scale":{"domain":["Tc17 Veh","Tc17 MMF"],"paddingInner":0,"paddingOuter":0}},"y":{"field":"y","type":"quantitative","title":"Percent of total CD8 T cells","scale":{"domain":[0,38],"nice":false,"zero":false}},"text":{"field":"v"}}}
      ]}
    ]
   },
   {
    "spacing":0,"bounds":"flush",
    "vconcat":[
     {
      "width":95,"height":92,"view":{"stroke":"#444","strokeWidth":1},
      "layer":[
       {"data":{"values":[
         {"pop":"pos","u":2.2,"d":1.95},{"pop":"pos","u":2.3,"d":2.05},{"pop":"pos","u":2.4,"d":1.7},{"pop":"pos","u":2.45,"d":1.95},{"pop":"pos","u":2.5,"d":2.1},{"pop":"pos","u":2.55,"d":1.8},{"pop":"pos","u":2.6,"d":1.6},{"pop":"pos","u":2.65,"d":1.98},{"pop":"pos","u":2.7,"d":1.75},{"pop":"pos","u":2.75,"d":2.15},{"pop":"pos","u":2.8,"d":1.55},{"pop":"pos","u":2.85,"d":1.9},{"pop":"pos","u":2.9,"d":1.7},{"pop":"pos","u":2.95,"d":2.05},{"pop":"pos","u":3.0,"d":1.8},{"pop":"pos","u":3.05,"d":1.5},{"pop":"pos","u":3.1,"d":1.95},{"pop":"pos","u":3.15,"d":1.68},{"pop":"pos","u":3.2,"d":2.1},{"pop":"pos","u":3.25,"d":1.82},{"pop":"pos","u":3.3,"d":1.45},{"pop":"pos","u":3.35,"d":1.98},{"pop":"pos","u":3.4,"d":1.62},{"pop":"pos","u":3.45,"d":1.85},{"pop":"pos","u":3.55,"d":1.72},{"pop":"pos","u":3.6,"d":2.0},{"pop":"pos","u":3.65,"d":1.55},{"pop":"pos","u":3.75,"d":1.8},{"pop":"pos","u":3.85,"d":1.65},{"pop":"pos","u":3.9,"d":1.95},{"pop":"pos","u":4.0,"d":1.75},{"pop":"pos","u":4.1,"d":1.6},{"pop":"pos","u":4.2,"d":1.85},{"pop":"pos","u":4.35,"d":1.7},{"pop":"pos","u":4.5,"d":1.78},{"pop":"pos","u":2.35,"d":1.55},{"pop":"pos","u":2.6,"d":2.2},{"pop":"pos","u":3.0,"d":2.2},{"pop":"pos","u":3.5,"d":2.15},{"pop":"pos","u":2.9,"d":1.4},
         {"pop":"neg","u":1.65,"d":1.42},{"pop":"neg","u":1.72,"d":1.5},{"pop":"neg","u":1.8,"d":1.45},{"pop":"neg","u":1.78,"d":1.6},{"pop":"neg","u":1.88,"d":1.55},{"pop":"neg","u":1.9,"d":1.68},{"pop":"neg","u":1.98,"d":1.6},{"pop":"neg","u":2.0,"d":1.75},{"pop":"neg","u":2.08,"d":1.68},{"pop":"neg","u":2.1,"d":1.82},{"pop":"neg","u":2.18,"d":1.75},{"pop":"neg","u":2.2,"d":1.88},{"pop":"neg","u":2.28,"d":1.8},{"pop":"neg","u":2.3,"d":1.9},{"pop":"neg","u":1.7,"d":1.62},{"pop":"neg","u":1.95,"d":1.45},{"pop":"neg","u":2.15,"d":1.62},{"pop":"neg","u":2.35,"d":1.75},{"pop":"neg","u":1.85,"d":1.78},{"pop":"neg","u":2.05,"d":1.9},{"pop":"neg","u":1.62,"d":1.55},{"pop":"neg","u":2.25,"d":1.65}]},
        "mark":{"type":"circle","size":9,"opacity":0.85},
        "encoding":{
         "x":{"field":"u","type":"quantitative","title":null,"scale":{"domain":[0,6],"nice":false,"zero":false},"axis":{"values":[0.32,1.01,1.71,2.59,4.04,5.49],"labelExpr":"datum.value < 0.6 ? '-10²' : datum.value < 1.3 ? '0' : datum.value < 2 ? '10²' : datum.value < 3 ? '10³' : datum.value < 5 ? '10⁴' : '10⁵'","labelFontSize":3.5,"tickSize":2,"labelPadding":1,"domain":false}},
         "y":{"field":"d","type":"quantitative","title":null,"scale":{"domain":[0,6],"nice":false,"zero":false},"axis":{"values":[0.65,1.37,2.41,4.11,5.41],"labelExpr":"datum.value < 1 ? '-10³' : datum.value < 2 ? '0' : datum.value < 3 ? '10³' : datum.value < 5 ? '10⁴' : '10⁵'","labelFontSize":3.5,"tickSize":2,"labelPadding":1,"domain":false}},
         "fill":{"field":"pop","type":"nominal","scale":{"domain":["neg","pos"],"range":["#e8403f","#27a4dc"]},"legend":null}}},
       {"data":{"values":[{"u1":2.53,"u2":5.18,"d1":1.17,"d2":2.67}]},
        "mark":{"type":"rect","filled":false,"color":"#333","strokeWidth":0.8},
        "encoding":{"x":{"field":"u1","type":"quantitative","title":null,"scale":{"domain":[0,6],"nice":false,"zero":false}},"x2":{"field":"u2"},"y":{"field":"d1","type":"quantitative","title":null,"scale":{"domain":[0,6],"nice":false,"zero":false}},"y2":{"field":"d2"}}},
       {"data":{"values":[{"u":3.03,"d":3.65,"t":"CCR6"},{"u":3.03,"d":3.33,"t":"24.2"}]},
        "mark":{"type":"text","fontSize":4.5,"fontWeight":"bold","color":"#333"},
        "encoding":{"x":{"field":"u","type":"quantitative","title":null,"scale":{"domain":[0,6],"nice":false,"zero":false}},"y":{"field":"d","type":"quantitative","title":null,"scale":{"domain":[0,6],"nice":false,"zero":false}},"text":{"field":"t"}}},
       {"data":{"values":[{"u":2.9,"d":4.9,"t":"Vehicle"}]},
        "mark":{"type":"text","font":"Open Sans","fontSize":13.5,"color":"#222"},
        "encoding":{"x":{"field":"u","type":"quantitative","title":null,"scale":{"domain":[0,6],"nice":false,"zero":false}},"y":{"field":"d","type":"quantitative","title":null,"scale":{"domain":[0,6],"nice":false,"zero":false}},"text":{"field":"t"}}}
      ]
     },
     {
      "width":95,"height":92,"view":{"stroke":"#444","strokeWidth":1},
      "layer":[
       {"data":{"values":[
         {"pop":"pos","u":2.2,"d":1.95},{"pop":"pos","u":2.3,"d":2.05},{"pop":"pos","u":2.4,"d":1.7},{"pop":"pos","u":2.45,"d":1.95},{"pop":"pos","u":2.5,"d":2.1},{"pop":"pos","u":2.55,"d":1.8},{"pop":"pos","u":2.6,"d":1.6},{"pop":"pos","u":2.65,"d":1.98},{"pop":"pos","u":2.75,"d":2.15},{"pop":"pos","u":2.85,"d":1.9},{"pop":"pos","u":2.95,"d":2.05},{"pop":"pos","u":3.0,"d":1.8},{"pop":"pos","u":3.1,"d":1.95},{"pop":"pos","u":3.2,"d":2.1},{"pop":"pos","u":3.25,"d":1.72},{"pop":"pos","u":3.4,"d":1.62},{"pop":"pos","u":3.45,"d":1.9},{"pop":"pos","u":3.6,"d":2.0},{"pop":"pos","u":3.75,"d":1.8},{"pop":"pos","u":3.9,"d":1.95},{"pop":"pos","u":4.1,"d":1.7},{"pop":"pos","u":4.35,"d":1.8},{"pop":"pos","u":2.35,"d":1.55},{"pop":"pos","u":2.6,"d":2.2},{"pop":"pos","u":2.9,"d":2.25},
         {"pop":"neg","u":1.65,"d":1.42},{"pop":"neg","u":1.72,"d":1.5},{"pop":"neg","u":1.8,"d":1.45},{"pop":"neg","u":1.78,"d":1.6},{"pop":"neg","u":1.88,"d":1.55},{"pop":"neg","u":1.9,"d":1.68},{"pop":"neg","u":1.98,"d":1.6},{"pop":"neg","u":2.0,"d":1.75},{"pop":"neg","u":2.08,"d":1.68},{"pop":"neg","u":2.1,"d":1.82},{"pop":"neg","u":2.18,"d":1.75},{"pop":"neg","u":2.2,"d":1.88},{"pop":"neg","u":2.28,"d":1.8},{"pop":"neg","u":2.3,"d":1.9},{"pop":"neg","u":1.7,"d":1.62},{"pop":"neg","u":1.95,"d":1.45},{"pop":"neg","u":2.15,"d":1.62},{"pop":"neg","u":2.35,"d":1.75},{"pop":"neg","u":1.85,"d":1.78},{"pop":"neg","u":2.05,"d":1.9},{"pop":"neg","u":1.62,"d":1.55},{"pop":"neg","u":2.25,"d":1.65}]},
        "mark":{"type":"circle","size":9,"opacity":0.85},
        "encoding":{
         "x":{"field":"u","type":"quantitative","title":"CCR6","scale":{"domain":[0,6],"nice":false,"zero":false},"axis":{"values":[0.32,1.01,1.71,2.59,4.04,5.49],"labelExpr":"datum.value < 0.6 ? '-10²' : datum.value < 1.3 ? '0' : datum.value < 2 ? '10²' : datum.value < 3 ? '10³' : datum.value < 5 ? '10⁴' : '10⁵'","labelFontSize":3.5,"tickSize":2,"labelPadding":1,"domain":false,"titleFontSize":11,"titlePadding":6}},
         "y":{"field":"d","type":"quantitative","title":null,"scale":{"domain":[0,6],"nice":false,"zero":false},"axis":{"values":[0.65,1.37,2.41,4.11,5.41],"labelExpr":"datum.value < 1 ? '-10³' : datum.value < 2 ? '0' : datum.value < 3 ? '10³' : datum.value < 5 ? '10⁴' : '10⁵'","labelFontSize":3.5,"tickSize":2,"labelPadding":1,"domain":false}},
         "fill":{"field":"pop","type":"nominal","scale":{"domain":["neg","pos"],"range":["#e8403f","#27a4dc"]},"legend":null}}},
       {"data":{"values":[{"u1":2.53,"u2":5.18,"d1":1.17,"d2":2.61}]},
        "mark":{"type":"rect","filled":false,"color":"#333","strokeWidth":0.8},
        "encoding":{"x":{"field":"u1","type":"quantitative","title":"CCR6","scale":{"domain":[0,6],"nice":false,"zero":false}},"x2":{"field":"u2"},"y":{"field":"d1","type":"quantitative","title":null,"scale":{"domain":[0,6],"nice":false,"zero":false}},"y2":{"field":"d2"}}},
       {"data":{"values":[{"u":3.03,"d":3.65,"t":"CCR6"},{"u":3.03,"d":3.36,"t":"14.7"}]},
        "mark":{"type":"text","fontSize":4.5,"fontWeight":"bold","color":"#333"},
        "encoding":{"x":{"field":"u","type":"quantitative","title":"CCR6","scale":{"domain":[0,6],"nice":false,"zero":false}},"y":{"field":"d","type":"quantitative","title":null,"scale":{"domain":[0,6],"nice":false,"zero":false}},"text":{"field":"t"}}},
       {"data":{"values":[{"u":2.9,"d":4.83,"t":"MMF"}]},
        "mark":{"type":"text","font":"Open Sans","fontSize":13.5,"color":"#222"},
        "encoding":{"x":{"field":"u","type":"quantitative","title":"CCR6","scale":{"domain":[0,6],"nice":false,"zero":false}},"y":{"field":"d","type":"quantitative","title":null,"scale":{"domain":[0,6],"nice":false,"zero":false}},"text":{"field":"t"}}},
       {"data":{"values":[{"u1":0.63,"u2":5.85,"d":-0.65}]},
        "layer":[
         {"mark":{"type":"rule","color":"#222","strokeWidth":1.2},"encoding":{"x":{"field":"u1","type":"quantitative","title":"CCR6","scale":{"domain":[0,6],"nice":false,"zero":false}},"x2":{"field":"u2"},"y":{"field":"d","type":"quantitative","title":null,"scale":{"domain":[0,6],"nice":false,"zero":false}}}},
         {"mark":{"type":"point","shape":"triangle-right","filled":true,"size":40,"color":"#222","opacity":1},"encoding":{"x":{"field":"u2","type":"quantitative","title":"CCR6","scale":{"domain":[0,6],"nice":false,"zero":false}},"y":{"field":"d","type":"quantitative","title":null,"scale":{"domain":[0,6],"nice":false,"zero":false}}}}
        ]}
      ]
     }
    ]
   }
  ]
 }
 ]
}
]
}
